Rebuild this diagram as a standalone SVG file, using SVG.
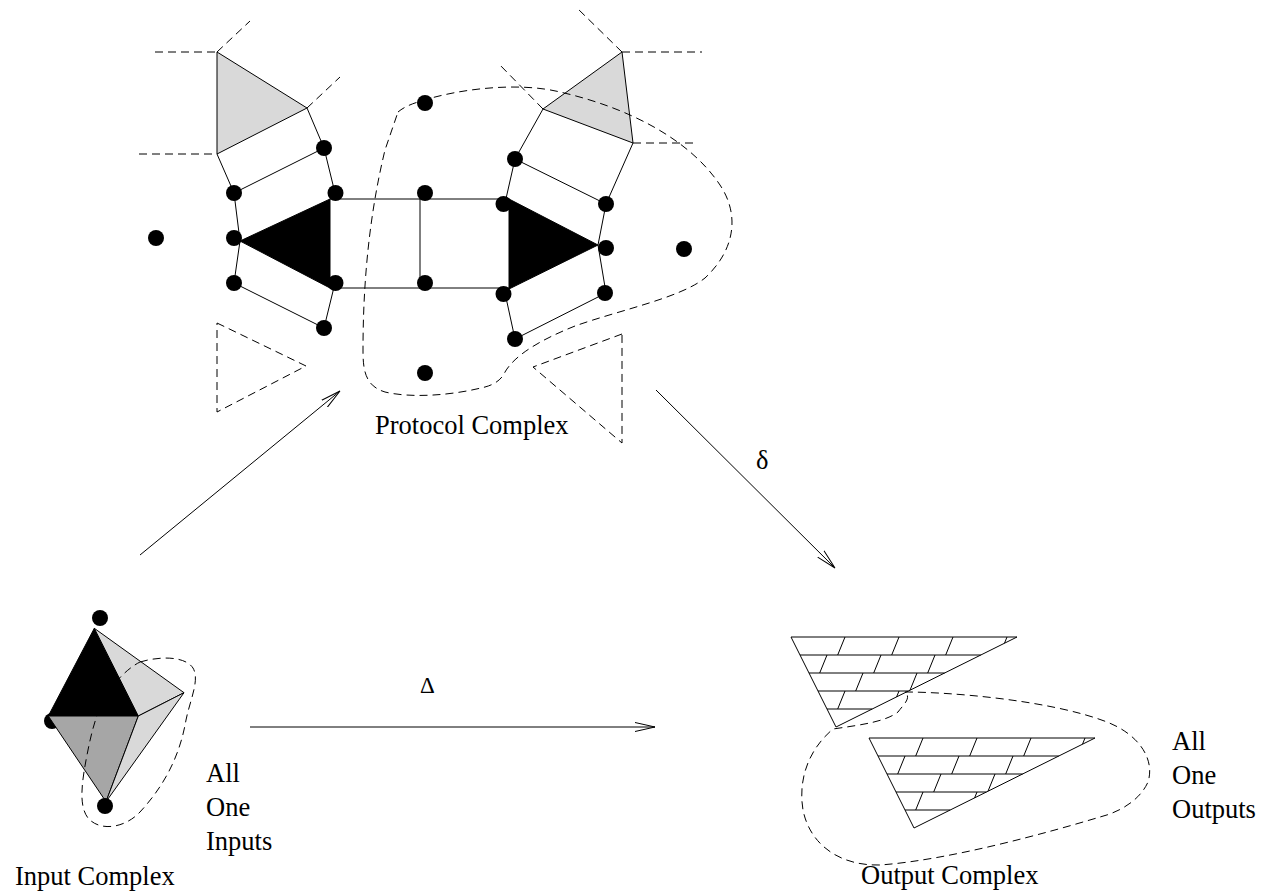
<svg xmlns="http://www.w3.org/2000/svg" xmlns:xlink="http://www.w3.org/1999/xlink" width="1265" height="895" viewBox="0 0 1265 895">
<style>
.e{fill:none;stroke:#000;stroke-width:1}
.d{fill:none;stroke:#000;stroke-width:1;stroke-dasharray:8 5}
.dot{fill:#000}
.lg{fill:#d9d9d9;stroke:#000;stroke-width:1}
.mg{fill:#a6a6a6;stroke:#000;stroke-width:1}
.bk{fill:#000;stroke:#000;stroke-width:1}
.t{font-family:"Liberation Serif","Times New Roman",serif;font-size:26.5px;fill:#000}
.a{fill:none;stroke:#000;stroke-width:1;marker-end:url(#arr)}
</style>
<defs>
<marker id="arr" markerWidth="22" markerHeight="12" refX="20" refY="6" orient="auto" markerUnits="userSpaceOnUse">
<path d="M0,1.5 L20,6 L0,10.5" fill="none" stroke="#000" stroke-width="1"/>
</marker>
<g id="brickTri">
<path class="e" d="M9,18H189.8M18,36H153.6M27,54H117.4M36,72H81.2"/>
<path class="e" d="M54,0L46.7,18M108,0L100.7,18M162,0L154.7,18M216,0L213.5,6.2M36,18L28.7,36M90,18L82.7,36M144,18L136.7,36M72,36L64.7,54M126,36L119,53.2M54,54L46.7,72M108,54L105.6,59.9"/>
<polygon class="e" points="0,0 226,0 45,90"/>
</g>
</defs>
<rect width="1265" height="895" fill="#fff"/>

<g id="protocol-complex">
<polygon class="lg" points="217,52 307,108 217,154"/>
<polygon class="lg" points="622,52 543,109 633,143"/>
<path class="d" d="M155,52H217M217,52L250,21M307,108L340,77M139,154H217"/>
<path class="d" d="M622,52H702M622,52L577,8M543,109L498,63M633,143H697"/>
<polygon class="bk" points="240,241 330,199 330,288"/>
<polygon class="bk" points="509,199 509,289 598,245"/>
<path class="e" d="M307,108L324,148L335,193M217,154L234,193L240,241M234,193L324,148M240,241L234,283L324,328L335,283"/>
<path class="e" d="M330,199H509M330,288H509M420,199V288"/>
<path class="e" d="M505,203L515,159L543,109M515,159L606,204L633,143M606,204L598,245L606,293L515,339L505,293"/>
<polygon class="d" points="217,323 306,366 217,412"/>
<polygon class="d" points="622,334 533,367 622,443"/>
<path class="d" d="M398,112 Q405,106 418,102 C460,88 520,82 560,92 C630,108 690,140 720,185 C740,215 735,250 705,278 C680,298 620,310 575,326 C540,340 515,355 505,372 Q500,383 485,387 C450,396 410,398 385,392 C365,386 363,370 363,350 C363,290 368,220 385,150 Z"/>
<g class="dot">
<circle cx="156" cy="238" r="8"/>
<circle cx="234" cy="193" r="8"/>
<circle cx="234" cy="238" r="8"/>
<circle cx="234" cy="283" r="8"/>
<circle cx="324" cy="148" r="8"/>
<circle cx="335.5" cy="193" r="8"/>
<circle cx="335.5" cy="283" r="8"/>
<circle cx="324" cy="328" r="8"/>
<circle cx="425" cy="103" r="8"/>
<circle cx="425" cy="193" r="8"/>
<circle cx="425" cy="283" r="8"/>
<circle cx="425" cy="373" r="8"/>
<circle cx="503.5" cy="204" r="8"/>
<circle cx="503.5" cy="294" r="8"/>
<circle cx="515" cy="159" r="8"/>
<circle cx="515" cy="339" r="8"/>
<circle cx="606" cy="204" r="8"/>
<circle cx="606" cy="248" r="8"/>
<circle cx="605" cy="293" r="8"/>
<circle cx="684" cy="249" r="8"/>
</g>
<text class="t" x="375" y="434">Protocol Complex</text>
</g>

<g id="input-complex">
<circle class="dot" cx="100" cy="618" r="8"/>
<circle class="dot" cx="52" cy="721" r="8"/>
<polygon class="bk" points="94.3,628.3 48.3,716 138.3,716"/>
<polygon class="lg" points="94.3,628.3 138.3,716 184,692.7"/>
<polygon class="mg" points="48.3,716 138.3,716 106,801.7"/>
<polygon class="lg" points="138.3,716 184,692.7 106,801.7"/>
<circle class="dot" cx="105" cy="806" r="8"/>
<path class="d" d="M140,662 C160,656 185,656 193,668 C200,680 190,700 186,720 C180,755 165,785 140,812 C125,828 100,832 88,818 C78,805 82,780 88,750 C93,725 100,700 115,683 Q128,668 140,662 Z"/>
<text class="t" x="206" y="782">All</text>
<text class="t" x="206" y="816">One</text>
<text class="t" x="206" y="850">Inputs</text>
<text class="t" x="15" y="885">Input Complex</text>
</g>

<g id="output-complex">
<use xlink:href="#brickTri" href="#brickTri" transform="translate(791,637)"/>
<use xlink:href="#brickTri" href="#brickTri" transform="translate(869,738)"/>
<path class="d" d="M905,692 C950,692 1050,700 1107,722 C1140,735 1155,760 1148,782 C1140,800 1120,812 1100,817 C1050,832 950,860 880,865 C840,866 810,845 803,810 C798,780 808,750 833,729 C860,725 885,722 898,712 C903,705 912,698 905,692 Z"/>
<text class="t" x="1172" y="750">All</text>
<text class="t" x="1172" y="784">One</text>
<text class="t" x="1172" y="818">Outputs</text>
<text class="t" x="861" y="884">Output Complex</text>
</g>

<g id="connectors">
<path class="a" d="M140,555 L340,391"/>
<path class="a" d="M656,390 L835,568"/>
<path class="a" d="M250,727 L655,727"/>
<text class="t" x="420" y="693" style="font-size:23px">Δ</text>
<text class="t" x="756" y="469">δ</text>
</g>
</svg>
